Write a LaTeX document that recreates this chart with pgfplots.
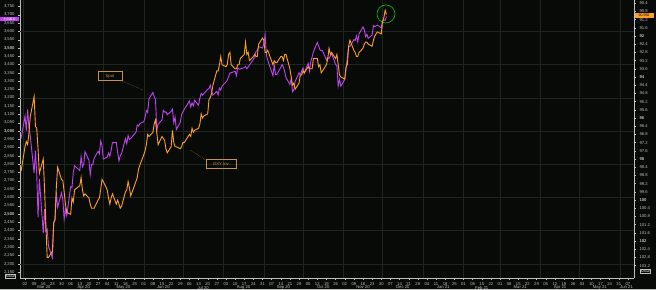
\documentclass[border=0pt]{standalone}
\usepackage{fontspec}
\setmainfont{Liberation Sans}
\usepackage{pgfplots}
\usepackage{pgfplotstable}
\pgfplotsset{compat=1.18}
\definecolor{bg}{HTML}{080A08}
\definecolor{gridmaj}{HTML}{1F261F}
\definecolor{tickc}{HTML}{BEBEBE}
\definecolor{spx}{HTML}{C043F0}
\definecolor{dxy}{HTML}{FFA024}
\definecolor{boxc}{HTML}{C8904A}
\pgfplotstableread{
d spx dxy
-3 2954 98.6
0 3090 97.4
1 3003 97.15
2 3130 97.3
3 3023 96.75
4 2972 95.95
7 2746 94.95
8 2882 96.4
9 2741 96.5
10 2480 97.5
11 2711 98.7
14 2386 98.0
15 2529 99.5
16 2398 101.2
17 2409 102.8
18 2305 102.8
21 2237 102.5
22 2447 101.1
23 2476 101.0
24 2630 99.4
25 2541 98.4
28 2627 99.0
29 2585 99.05
30 2470 99.6
31 2527 100.2
32 2489 100.6
35 2664 100.7
36 2659 99.9
37 2750 100.1
38 2790 99.5
42 2762 99.3
43 2846 98.9
44 2784 99.5
45 2800 99.8
46 2875 99.7
49 2823 99.9
50 2737 100.2
51 2799 100.4
52 2798 100.4
53 2837 100.4
56 2878 100.0
57 2863 99.9
58 2940 99.5
59 2912 99.0
60 2831 99.1
63 2843 99.5
64 2868 99.9
65 2848 100.2
66 2882 99.9
67 2930 99.7
70 2930 100.2
71 2870 100.0
72 2820 100.2
73 2852 100.4
74 2864 100.3
77 2954 99.6
78 2923 99.5
79 2972 99.1
80 2949 99.4
81 2955 99.8
85 2992 99.1
86 3036 98.9
87 3030 98.5
88 3044 98.3
91 3056 97.8
92 3081 97.6
93 3123 97.3
94 3112 96.8
95 3194 96.9
98 3232 96.7
99 3207 96.3
100 3190 96.1
101 3002 96.7
102 3041 97.3
105 3067 96.9
106 3125 97.0
107 3113 97.1
108 3115 97.5
109 3098 97.7
112 3118 97.4
113 3131 96.6
114 3050 97.2
115 3084 97.4
116 3009 97.4
119 3053 97.5
120 3100 97.4
121 3116 97.2
122 3130 97.2
126 3180 96.8
127 3145 96.9
128 3169 96.5
129 3152 96.7
130 3185 96.6
133 3155 96.5
134 3197 96.3
135 3227 95.8
136 3216 96.0
137 3225 95.9
140 3251 95.8
141 3257 95.1
142 3276 95.0
143 3236 94.8
144 3216 94.4
147 3239 93.7
148 3218 93.7
149 3258 93.4
150 3246 93.0
151 3271 93.4
154 3295 93.5
155 3306 93.4
156 3327 92.9
157 3349 92.8
158 3351 93.4
161 3360 93.6
162 3333 93.6
163 3380 93.4
164 3373 93.4
165 3373 93.1
168 3382 92.9
169 3389 92.3
170 3375 92.9
171 3385 92.8
172 3397 93.2
175 3431 93.0
176 3443 92.9
177 3479 93.0
178 3485 93.0
179 3508 92.4
182 3500 92.1
183 3527 92.2
184 3580 92.8
185 3455 92.8
186 3427 92.7
190 3332 93.4
191 3399 93.2
192 3339 93.3
193 3341 93.3
196 3383 93.0
197 3401 93.0
198 3385 93.2
199 3357 92.9
200 3320 92.9
203 3281 93.6
204 3315 94.0
205 3237 94.4
206 3247 94.3
207 3298 94.6
210 3351 94.3
211 3335 93.9
212 3363 93.9
213 3380 93.7
214 3348 93.8
217 3408 93.5
218 3361 93.6
219 3419 93.6
220 3446 93.6
221 3477 93.1
224 3534 93.1
225 3512 93.5
226 3489 93.4
227 3483 93.8
228 3484 93.7
231 3427 93.4
232 3443 93.1
233 3436 92.6
234 3453 92.9
235 3465 92.8
238 3401 93.1
239 3391 92.9
240 3271 93.4
241 3310 93.9
242 3270 94.0
245 3310 94.1
246 3370 93.5
247 3443 93.4
248 3510 92.5
249 3509 92.2
252 3550 92.7
253 3545 92.8
254 3572 93.0
255 3537 93.0
256 3585 92.8
259 3627 92.6
260 3610 92.4
261 3568 92.3
262 3582 92.3
263 3558 92.4
266 3578 92.5
267 3635 92.2
268 3629 92.0
270 3638 91.8
273 3622 91.9
274 3662 91.3
275 3669 91.1
276 3666 90.75
277 3690 90.95
}\data
\newcommand\tf{\fontsize{4.2}{4.6}\selectfont}
\newcommand\ml[2]{\node[font=\tf, text=tickc] at (axis cs:#1,2114.5) [yshift=-9.5bp] {#2};}
\begin{document}
\begin{tikzpicture}
\fill[bg] (-20bp,-12bp) rectangle (636bp,278bp);
\pgfplotsset{common/.style={scale only axis, width=614bp, height=278bp,
  xmin=-3.83, xmax=466.67, at={(0,0)}, anchor=south west,
  ticklabel style={font=\tf, text=tickc},
  /pgf/number format/assume math mode=true,
  axis line style={tickc, line width=0.4pt},
  tick style={tickc, line width=0.3pt}, major tick length=2bp, tick align=outside}}
\begin{axis}[common, axis x line*=bottom, axis y line*=left, clip=false,
  ymin=2114.5, ymax=3789,
  ytick={2150,2200,...,3750},
  yticklabels={{2,150},{2,200},{2,250},{2,300},{2,350},{2,400},{2,450},{\textbf{2,500}},{2,550},{2,600},{2,650},{2,700},{2,750},{2,800},{2,850},{2,900},{2,950},{\textbf{3,000}},{3,050},{3,100},{3,150},{3,200},{3,250},{3,300},{3,350},{3,400},{3,450},{\textbf{3,500}},{3,550},{3,600},{3,650},{3,700},{3,750}},
  xtick={0,7,...,462},
  xticklabels={02,09,16,23,30,06,13,20,27,04,11,18,25,01,08,15,22,29,06,13,20,27,03,10,17,24,31,07,14,21,28,05,12,19,26,02,09,16,23,30,07,14,21,28,04,11,18,25,01,08,15,22,01,08,15,22,29,05,12,19,26,03,10,17,24,31,07},
  xticklabel style={yshift=1bp},
  extra x ticks={-1,30,60,91,121,152,183,213,244,274,305,336,364,395,425,456},
  extra x tick labels={},
  extra x tick style={xmajorgrids=true, major grid style={gridmaj, line width=0.4pt}, major tick length=0pt},
  extra y ticks={2200,2400,2600,2800,3000,3200,3400,3600},
  extra y tick labels={},
  extra y tick style={ymajorgrids=true, major grid style={gridmaj, line width=0.4pt}, major tick length=0pt}]
\addplot[spx, line width=0.9pt] table[x=d,y=spx]{\data};
\ml{14.5}{Mar 20}\ml{45}{Apr 20}\ml{75.5}{May 20}\ml{106}{Jun 20}
\ml{136.5}{Jul 20}\ml{167.5}{Aug 20}\ml{198}{Sep 20}\ml{228.5}{Oct 20}
\ml{259}{Nov 20}\ml{289.5}{Dec 20}\ml{320.5}{Jan 21}\ml{350}{Feb 21}
\ml{379.5}{Mar 21}\ml{410}{Apr 21}\ml{440.5}{May 21}\ml{461}{Jun 21}
\pgfplotsinvokeforeach{30,60,91,121,152,183,213,244,274,305,336,364,395,425,456}{
  \draw[tickc, line width=0.3pt] (axis cs:#1,2114.5) ++(0,-6bp) -- ++(0,-6bp);}
\draw[green!80!black, line width=0.6pt] (axis cs:276.6,3705) circle[radius=9bp];
\end{axis}
\begin{axis}[common, axis x line=none, axis y line*=right, y dir=reverse,
  ymin=90.244, ymax=103.805,
  ytick={90.4,90.8,91.2,91.6,92,92.4,92.8,93.2,93.6,94,94.4,94.8,95.2,95.6,96,96.4,96.8,97.2,97.6,98,98.4,98.8,99.2,99.6,100,100.4,100.8,101.2,101.6,102,102.4,102.8,103.2},
  yticklabels={90.4,90.8,91.2,91.6,\textbf{92},92.4,92.8,93.2,93.6,\textbf{94},94.4,94.8,95.2,95.6,\textbf{96},96.4,96.8,97.2,97.6,\textbf{98},98.4,98.8,99.2,99.6,\textbf{100},100.4,100.8,101.2,101.6,\textbf{102},102.4,102.8,103.2}]
\addplot[dxy, line width=0.9pt] table[x=d,y=dxy]{\data};
\end{axis}
% annotation boxes
\node[draw=boxc, line width=0.4pt, text=boxc, font=\tf, minimum width=24bp, minimum height=9bp, inner sep=1bp] at (90bp,202bp) {Spot};
\draw[boxc, densely dotted, line width=0.4pt] (102bp,197bp) -- (123bp,188bp);
\node[draw=boxc, line width=0.4pt, text=boxc, font=\tf, minimum width=30bp, minimum height=9bp, inner sep=1bp] at (201bp,114bp) {DXY Inv};
\draw[boxc, densely dotted, line width=0.4pt] (186bp,118bp) -- (170bp,128bp);
% last value labels
\node[fill=spx, text=white, font=\fontsize{3.6}{3.8}\selectfont, minimum width=19bp, minimum height=4.4bp, inner sep=0.4bp] at (-10.5bp,259bp) {3,690.0};
\node[fill=dxy, text=black, font=\fontsize{3.6}{3.8}\selectfont, minimum width=19bp, minimum height=4.4bp, inner sep=0.4bp] at (624bp,262.5bp) {90.950};
\node[draw=tickc, line width=0.3pt, text=white, font=\fontsize{3.4}{3.6}\selectfont\itshape, inner sep=0.6bp] at (-10bp,2bp) {Actual};
\node[draw=tickc, line width=0.3pt, text=white, font=\fontsize{3.4}{3.6}\selectfont\itshape, inner sep=0.6bp] at (625bp,7bp) {Actual};
\draw[tickc, line width=0.6pt] (-20bp,-11.5bp) -- (636bp,-11.5bp);
\pgfresetboundingbox
\path[use as bounding box] (-20bp,-12bp) rectangle (636bp,278bp);
\end{tikzpicture}
\end{document}
